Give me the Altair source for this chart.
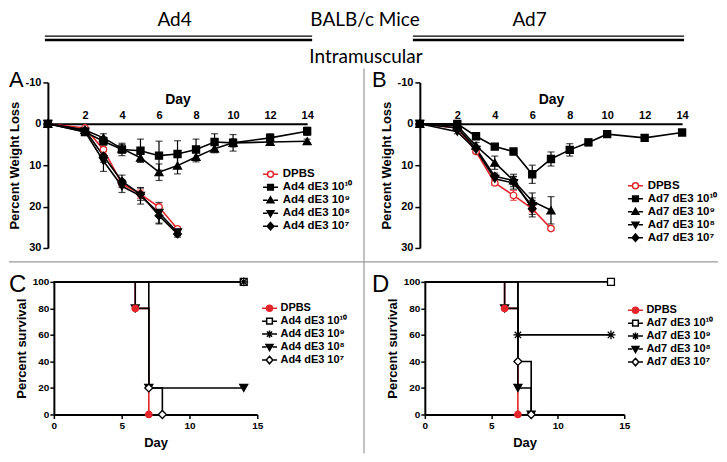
import altair as alt
import pandas as pd

SANS = "Liberation Sans"
HEAD = "Lato"
RED = "#e3262b"
GRAY = "#9a9a9a"

# ---------------- data ----------------
days_w = [0, 2, 3, 4, 5, 6, 7, 8, 9, 10, 12, 14]

ad4_series = ["DPBS", "Ad4 dE3 10¹⁰", "Ad4 dE3 10⁹", "Ad4 dE3 10⁸", "Ad4 dE3 10⁷"]
ad7_series = ["DPBS", "Ad7 dE3 10¹⁰", "Ad7 dE3 10⁹", "Ad7 dE3 10⁸", "Ad7 dE3 10⁷"]

# Panel A (Ad4) percent weight loss, mean and error
a_dpbs = [0, 1.0, 6.2, 14.5, 17.0, 20.1, 25.4]
a_dpbs_err = [0, 0.3, 0.5, 0.6, 1.0, 0.7, 0.5]
a_e10 = [0, 2.0, 4.2, 6.2, 6.5, 7.7, 7.3, 6.2, 4.4, 4.6, 3.4, 1.8]
a_e10_err = [0, 0.5, 1.0, 1.5, 2.8, 3.5, 3.2, 2.5, 2.0, 2.0, 1.0, 1.0]
a_e9 = [0, 1.5, 3.4, 6.0, 8.2, 11.7, 10.1, 8.0, 6.0, 4.6, 4.4, 4.2]
a_e9_err = [0, 0.5, 1.0, 1.0, 1.0, 2.0, 2.0, 1.2, 1.0, 1.0, 0.8, 0.5]
a_e8 = [0, 1.9, 9.0, 15.1, 17.4, 21.5, 26.2]
a_e8_err = [0, 0.5, 2.5, 1.5, 2.0, 2.5, 0.8]
a_e7 = [0, 1.5, 7.8, 13.9, 17.0, 22.2, 26.6]
a_e7_err = [0, 0.5, 1.5, 1.5, 1.5, 2.0, 0.8]

# Panel B (Ad7) percent weight loss, mean and error
b_dpbs = [0, 1.0, 6.7, 14.3, 17.3, 20.5, 25.3]
b_dpbs_err = [0, 0.3, 0.5, 0.6, 1.2, 0.8, 0.5]
b_e10 = [0, 0.0, 3.0, 5.5, 6.7, 12.2, 8.5, 6.3, 4.5, 2.5, 3.4, 2.1]
b_e10_err = [0, 0.5, 0.5, 0.5, 0.5, 2.2, 1.7, 1.5, 0.8, 0.5, 0.5, 0.6]
b_e9 = [0, 0.5, 5.3, 9.4, 13.7, 18.7, 20.9]
b_e9_err = [0, 0.5, 0.8, 1.6, 1.5, 2.0, 3.3]
b_e8 = [0, 1.9, 6.3, 13.3, 14.3, 19.9]
b_e8_err = [0, 0.5, 0.6, 1.0, 1.5, 2.0]
b_e7 = [0, 1.0, 5.9, 12.7, 13.7, 20.5]
b_e7_err = [0, 0.4, 0.5, 0.8, 1.0, 2.0]

# Panel C (Ad4) percent survival (step points)
c_dpbs_days, c_dpbs_surv = [0, 6, 7], [100, 80, 0]
c_e10_days, c_e10_surv = [0, 14], [100, 100]
c_e9_days, c_e9_surv = [0, 14], [100, 100]
c_e8_days, c_e8_surv = [0, 6, 7, 14], [100, 80, 20, 20]
c_e7_days, c_e7_surv = [0, 7, 8], [100, 20, 0]

# Panel D (Ad7) percent survival (step points)
d_dpbs_days, d_dpbs_surv = [0, 6, 7], [100, 80, 0]
d_e10_days, d_e10_surv = [0, 14], [100, 100]
d_e9_days, d_e9_surv = [0, 7, 14], [100, 60, 60]
d_e8_days, d_e8_surv = [0, 6, 7, 8], [100, 80, 20, 0]
d_e7_days, d_e7_surv = [0, 7, 8], [100, 40, 0]


# ---------------- styles ----------------
def f(v):
    return f"{v:.3f}"


def leg_path(kind, k):
    """Legend symbol: a short line with the marker in the middle (unit box scaled by k)."""
    g = 0.42 * k
    stub = f"M{f(-k)},0H{f(-g)}M{f(g)},0H{f(k)}"
    if kind == "circle":
        r = 0.4 * k
        body = f"M{f(r)},0A{f(r)},{f(r)},0,1,1,{f(-r)},0A{f(r)},{f(r)},0,1,1,{f(r)},0Z"
    elif kind == "square":
        s = 0.38 * k
        body = f"M{f(-s)},{f(-s)}H{f(s)}V{f(s)}H{f(-s)}Z"
    elif kind == "tup":
        body = f"M0,{f(-0.46 * k)}L{f(0.46 * k)},{f(0.34 * k)}H{f(-0.46 * k)}Z"
    elif kind == "tdn":
        body = f"M0,{f(0.46 * k)}L{f(0.46 * k)},{f(-0.34 * k)}H{f(-0.46 * k)}Z"
    elif kind == "diam":
        body = f"M0,{f(-0.5 * k)}L{f(0.44 * k)},0L0,{f(0.5 * k)}L{f(-0.44 * k)},0Z"
    else:
        a, b = 0.48 * k, 0.34 * k
        body = (f"M0,{f(-a)}V{f(a)}M{f(-a)},0H{f(a)}M{f(-b)},{f(-b)}L{f(b)},{f(b)}"
                f"M{f(-b)},{f(b)}L{f(b)},{f(-b)}")
    return stub + body


ASTER = "M0,-1V1M-1,0H1M-0.72,-0.72L0.72,0.72M-0.72,0.72L0.72,-0.72"

w_shapes = ["circle", "square", "triangle-up", "triangle-down", "diamond"]
w_sizes = [42, 50, 64, 64, 60]
w_fills = ["white", "black", "black", "black", "black"]
w_strokes = [RED, "black", "black", "black", "black"]
w_kinds = ["circle", "square", "tup", "tdn", "diam"]

s_shapes = ["circle", "square", ASTER, "triangle-down", "diamond"]
s_sizes = [42, 48, 80, 64, 64]
s_fills = [RED, "white", "transparent", "black", "white"]
s_strokes = [RED, "black", "black", "black", "black"]
s_kinds = ["circle", "square", "aster", "tdn", "diam"]

one = pd.DataFrame({"k": [0]})


def txt(text, x, y, size, font=HEAD, weight="normal", align="center"):
    return alt.Chart(one).mark_text(
        text=text, font=font, fontSize=size, fontWeight=weight, align=align,
        baseline="alphabetic", color="black"
    ).encode(x=alt.value(x), y=alt.value(y))


def rule(x1, x2, y1, y2, w, color):
    return alt.Chart(one).mark_rule(color=color, strokeWidth=w).encode(
        x=alt.value(x1), x2=alt.value(x2), y=alt.value(y1), y2=alt.value(y2)
    )


def legend_layer(names, kinds, fills, strokes, lx, ly, fsize, loff, clip):
    symsize = 225
    k = 15.0 / (symsize ** 0.5)
    paths = [leg_path(kd, k) for kd in kinds]
    L = alt.Legend(
        orient="none", legendX=lx, legendY=ly, title=None, labelFont=SANS,
        labelFontWeight="bold", labelFontSize=fsize, labelColor="black",
        symbolSize=symsize, symbolStrokeWidth=1.5, symbolOpacity=1,
        labelOffset=loff, rowPadding=0, padding=0, clipHeight=clip,
    )
    return alt.Chart(pd.DataFrame({"series": names})).mark_point(opacity=0, filled=True).encode(
        shape=alt.Shape("series:N", scale=alt.Scale(domain=names, range=paths), legend=L),
        fill=alt.Fill("series:N", scale=alt.Scale(domain=names, range=fills), legend=L),
        stroke=alt.Stroke("series:N", scale=alt.Scale(domain=names, range=strokes), legend=L),
    )


H1 = 166
H2 = 133


def weight_panel(names, means, errs, width, lx, ly, extras):
    rows = []
    for name, m, e in zip(names, means, errs):
        for d, v, s in zip(days_w, m, e):
            rows.append({"series": name, "day": d, "loss": v, "lo": v - s, "hi": v + s, "err": s})
    df = pd.DataFrame(rows)
    off = H1 * 10 / 40
    xs = alt.Scale(domain=[0, 14], nice=False)
    ys = alt.Scale(domain=[-10, 30], reverse=True, nice=False)
    xax = alt.Axis(orient="top", offset=-off, values=list(range(2, 15, 2)), ticks=False,
                   title="Day", labelPadding=3, titlePadding=3, titleFontSize=14,
                   labelFontSize=11, domainWidth=2, grid=False, labelFlush=False)
    yax = alt.Axis(values=[-10, 0, 10, 20, 30], title="Percent Weight Loss", tickSize=5,
                   tickWidth=1.5, labelPadding=2, titlePadding=4, titleFontSize=13,
                   labelFontSize=11, domainWidth=2, grid=False, labelExpr="datum.value")
    X = alt.X("day:Q", scale=xs, axis=xax)

    def Y(fl):
        return alt.Y(f"{fl}:Q", scale=ys, axis=yax)

    col = alt.condition(alt.datum.series == "DPBS", alt.value(RED), alt.value("black"))
    base = alt.Chart(df)
    eb = base.transform_filter(alt.datum.err > 0)
    layers = [
        eb.mark_rule(strokeWidth=1.2).encode(x=X, y=Y("lo"), y2="hi:Q", color=col),
        eb.mark_tick(orient="horizontal", size=7, thickness=1.2).encode(x=X, y=Y("lo"), color=col),
        eb.mark_tick(orient="horizontal", size=7, thickness=1.2).encode(x=X, y=Y("hi"), color=col),
        base.transform_filter(alt.datum.series == "DPBS").mark_line(color=RED, strokeWidth=1.6)
        .encode(x=X, y=Y("loss")),
        base.transform_filter(alt.datum.series != "DPBS").mark_line(color="black", strokeWidth=1.6)
        .encode(x=X, y=Y("loss"), detail="series:N"),
    ]
    for i, name in enumerate(names):
        layers.append(
            base.transform_filter(alt.datum.series == name).mark_point(
                shape=w_shapes[i], size=w_sizes[i], filled=True, fill=w_fills[i],
                stroke=w_strokes[i], strokeWidth=1.3, opacity=1
            ).encode(x=X, y=Y("loss"))
        )
    layers.append(legend_layer(names, w_kinds, w_fills, w_strokes, lx, ly, 11.5, 3.75, 12.3))
    layers += extras
    return alt.layer(*layers).properties(width=width, height=H1)


def survival_panel(names, sdays, ssurv, width, xrange, yoff, lx, ly, extras):
    rows = []
    for name, ds, ss in zip(names, sdays, ssurv):
        for d, s in zip(ds, ss):
            rows.append({"series": name, "day": d, "surv": s})
    df = pd.DataFrame(rows)
    xs = alt.Scale(domain=[0, 15], nice=False, range=xrange)
    ys = alt.Scale(domain=[0, 100], nice=False)
    xax = alt.Axis(values=[0, 5, 10, 15], title="Day", tickSize=4, tickWidth=1.5,
                   labelPadding=2, titlePadding=6, titleFontSize=13, labelFontSize=10,
                   domainWidth=2, grid=False, labelFlush=False)
    yax = alt.Axis(values=[0, 20, 40, 60, 80, 100], title="Percent survival", offset=yoff,
                   tickSize=4, tickWidth=1.5, labelPadding=1, titlePadding=4,
                   titleFontSize=13, labelFontSize=10, domainWidth=2, grid=False)
    X = alt.X("day:Q", scale=xs, axis=xax)
    Y = alt.Y("surv:Q", scale=ys, axis=yax)
    base = alt.Chart(df)
    layers = [
        base.transform_filter(alt.datum.series == "DPBS").mark_line(
            color=RED, strokeWidth=1.6, interpolate="step-after").encode(x=X, y=Y),
        base.transform_filter(alt.datum.series != "DPBS").mark_line(
            color="black", strokeWidth=1.6, interpolate="step-after").encode(
            x=X, y=Y, detail="series:N"),
    ]
    order = list(range(1, len(names))) + [0]
    for i in order:
        name = names[i]
        layers.append(
            base.transform_filter((alt.datum.series == name) & (alt.datum.day > 0)).mark_point(
                shape=s_shapes[i], size=s_sizes[i], filled=True, fill=s_fills[i],
                stroke=s_strokes[i], strokeWidth=1.3, opacity=1
            ).encode(x=X, y=Y)
        )
    layers.append(legend_layer(names, s_kinds, s_fills, s_strokes, lx, ly, 11, 2.5, 11.8))
    layers += extras
    return alt.layer(*layers).properties(width=width, height=H2)


# ---------------- panels ----------------
panel_a = weight_panel(
    ad4_series,
    [a_dpbs, a_e10, a_e9, a_e8, a_e7],
    [a_dpbs_err, a_e10_err, a_e9_err, a_e8_err, a_e7_err],
    260, 214.75, 86,
    [txt("A", -39, 5, 22, font=SANS, align="left"),
     rule(-39, 672, 180, 180, 1.2, GRAY)],
)
panel_b = weight_panel(
    ad7_series,
    [b_dpbs, b_e10, b_e9, b_e8, b_e7],
    [b_dpbs_err, b_e10_err, b_e9_err, b_e8_err, b_e7_err],
    263, 207.75, 97.5,
    [txt("B", -48, 5, 22, font=SANS, align="left"),
     rule(-56, -56, -14, 372, 1.2, GRAY)],
)
panel_c = survival_panel(
    ad4_series,
    [c_dpbs_days, c_e10_days, c_e9_days, c_e8_days, c_e7_days],
    [c_dpbs_surv, c_e10_surv, c_e9_surv, c_e8_surv, c_e7_surv],
    210, [6, 210], -6, 213.75, 20.5,
    [txt("C", -39, 10, 24, font=SANS, align="left")],
)
panel_d = survival_panel(
    ad7_series,
    [d_dpbs_days, d_e10_days, d_e9_days, d_e8_days, d_e7_days],
    [d_dpbs_surv, d_e10_surv, d_e9_surv, d_e8_surv, d_e7_surv],
    205, [5, 205], -5, 207.75, 22.5,
    [txt("D", -48, 10, 24, font=SANS, align="left")],
)

header = alt.layer(
    txt("Ad4", 127, 17, 19),
    txt("BALB/c Mice", 318, 17, 19),
    txt("Ad7", 483, 17, 19),
    rule(-3, 265, 27.5, 27.5, 1.2, "black"),
    rule(-3, 265, 31.5, 31.5, 2.6, "black"),
    rule(366, 638, 27.5, 27.5, 1.2, "black"),
    rule(366, 638, 31.5, 31.5, 2.6, "black"),
    txt("Intramuscular", 319, 55, 19),
).properties(width=636, height=40)

grid = alt.concat(
    panel_a, panel_b, panel_c, panel_d, columns=2,
    spacing={"row": 34, "column": 113}, bounds="flush",
).resolve_scale(shape="independent", fill="independent", stroke="independent")

chart = alt.vconcat(header, grid, spacing=34, bounds="flush").properties(
    padding=0
).configure_view(stroke=None).configure_axis(
    labelFont=SANS, titleFont=SANS, labelFontWeight="bold", titleFontWeight="bold",
    labelColor="black", titleColor="black", domainColor="black", tickColor="black",
)

chart.save("out.html", embed_options={"renderer": "svg", "actions": False})
